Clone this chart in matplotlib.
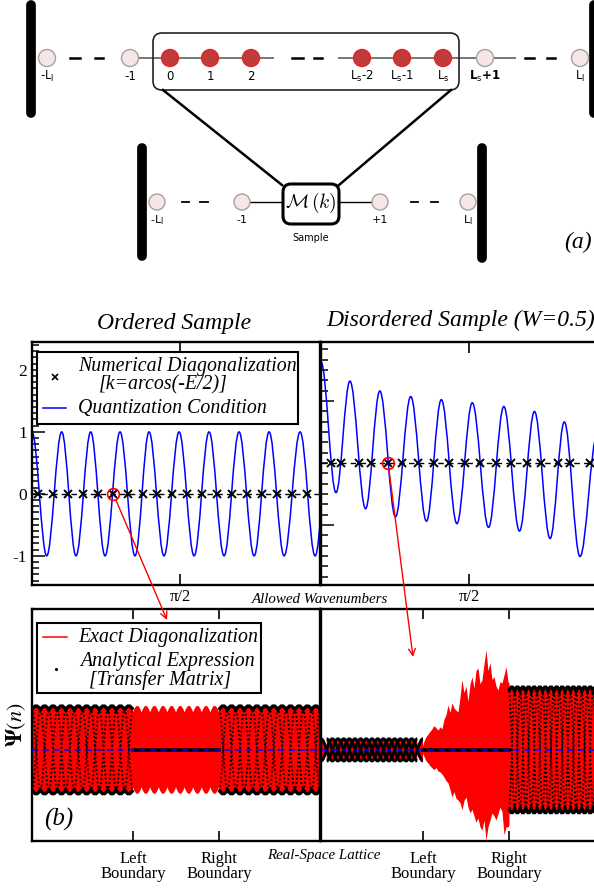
import numpy as np
import matplotlib.pyplot as plt
from matplotlib.path import Path
from matplotlib.patches import PathPatch, Rectangle, FancyBboxPatch, Circle, ConnectionPatch
from matplotlib.ticker import MultipleLocator

plt.rcParams['font.family'] = ['Liberation Serif', 'DejaVu Serif']
plt.rcParams['mathtext.fontset'] = 'stix'

# ---------------- (b) top row: quantization condition vs allowed k ----------------
# extrema of the blue curves (k, value)
ord_ext_k = [0.000, 0.156, 0.315, 0.467, 0.623, 0.775, 0.934, 1.093, 1.242, 1.401, 1.561,
             1.720, 1.879, 2.038, 2.197, 2.357, 2.516, 2.675, 2.845, 3.004, 3.160]
ord_ext_q = [1, -1, 1, -1, 1, -1, 1, -1, 1, -1, 1,
             -1, 1, -1, 1, -1, 1, -1, 1, -1, 1]
ord_roots = [0.067, 0.220, 0.379, 0.538, 0.697, 0.863, 1.016, 1.175, 1.330, 1.489,
             1.649, 1.801, 1.961, 2.120, 2.279, 2.445, 2.598, 2.757, 2.916]

dis_ext_k = [0.000, 0.159, 0.307, 0.473, 0.624, 0.790, 0.952, 1.119, 1.277, 1.442,
             1.605, 1.778, 1.940, 2.106, 2.265, 2.431, 2.582, 2.748, 2.930]
dis_ext_q = [2.13, 0.02, 1.82, -0.24, 1.66, -0.37, 1.57, -0.44, 1.52, -0.48,
             1.47, -0.54, 1.41, -0.60, 1.33, -0.72, 1.16, -1.01, 0.95]
dis_roots = [0.106, 0.212, 0.402, 0.529, 0.712, 0.864, 1.030, 1.196, 1.358, 1.524,
             1.683, 1.852, 2.011, 2.187, 2.335, 2.511, 2.642, 2.854]
W = 0.5
ord_pick = 0.863
dis_pick = 0.712

# ---------------- (b) bottom row: wavefunctions on the lattice ----------------
ord_bnd = [101, 187]
dis_bnd = [102, 188]
tick_names = ['Left\nBoundary', 'Right\nBoundary']

# oscillation nodes of the leads / sample (lattice position)
ord_lead_l = [0, 8.4, 16.8, 25.3, 33.7, 42.1, 50.5, 58.9, 67.3, 75.8, 84.2, 92.6, 101]
ord_sample = [101, 109.6, 118.2, 126.8, 135.4, 144, 152.6, 161.2, 169.8, 178.4, 187]
ord_lead_r = [187, 195.4, 203.8, 212.3, 220.7, 229.1, 237.5, 245.9, 254.3, 262.8, 271.2, 279.6, 288]
ord_amp = 1.0

dis_lead_l_a = [0, 11.3, 22.7, 34, 45.3, 56.7, 68, 79.3, 90.7, 102]
dis_lead_l_b = [5.7, 17, 28.3, 39.7, 51, 62.3, 73.7, 85, 96.3]
dis_lead_r = [188, 193.6, 199.2, 204.8, 210.4, 216, 221.6, 227.2, 232.8, 238.4,
              244, 249.6, 255.2, 260.8, 266.4, 272, 277.6, 283.2, 288.8]
dis_amp_l = 0.25
dis_amp_r = 1.43

# envelope of the exact-diagonalization state inside the disordered sample
dis_env_x = [101, 103, 105, 107, 109, 111, 113, 115, 117, 119,
             121, 123, 125, 127, 129, 131, 133, 135, 137, 139,
             141, 143, 145, 147, 149, 151, 153, 155, 157, 159,
             161, 163, 165, 167, 169, 171, 173, 175, 177, 179,
             181, 183, 185, 187, 188]
dis_env_top = [0.05, 0.20, 0.30, 0.36, 0.42, 0.48, 0.55, 0.50, 0.45, 0.52,
               0.48, 0.70, 0.80, 1.02, 0.85, 1.07, 0.95, 0.90, 0.86, 1.20,
               1.59, 1.30, 1.45, 1.10, 1.50, 1.66, 1.40, 1.80, 1.86, 1.50,
               1.59, 1.95, 2.27, 1.80, 1.98, 1.60, 1.66, 1.45, 1.36, 1.55,
               1.52, 1.70, 1.89, 1.55, 1.52]
dis_env_bot = [-0.05, -0.15, -0.25, -0.30, -0.36, -0.41, -0.45, -0.40, -0.48, -0.50,
               -0.55, -0.62, -0.70, -0.75, -0.90, -1.07, -0.95, -1.10, -1.14, -1.20,
               -1.36, -1.15, -1.07, -1.30, -1.43, -1.35, -1.50, -1.64, -1.55, -1.75,
               -1.82, -1.60, -2.05, -1.75, -1.60, -1.43, -1.50, -1.59, -1.45, -1.30,
               -1.40, -1.93, -1.75, -1.75, -1.70]

# ---------------- (a) schematic ----------------
row1_x = [47, 130, 170, 210, 251, 362, 402, 443, 485, 580]
row1_lab = ['-L$_\\mathrm{l}$', '-1', '0', '1', '2', 'L$_\\mathrm{s}$-2', 'L$_\\mathrm{s}$-1',
            'L$_\\mathrm{s}$', 'L$_\\mathrm{s}$+1', 'L$_\\mathrm{l}$']
row1_in_sample = [False, False, True, True, True, True, True, True, False, False]
row2_x = [157, 242, 380, 468]
row2_lab = ['-L$_\\mathrm{l}$', '-1', '+1', 'L$_\\mathrm{l}$']


def wave_verts(xs, ys):
    # smooth curve with flat tangents at every given extremum
    v = [(xs[0], ys[0])]
    for i in range(len(xs) - 1):
        dx = xs[i + 1] - xs[i]
        v += [(xs[i] + 0.3634 * dx, ys[i]), (xs[i + 1] - 0.3634 * dx, ys[i + 1]), (xs[i + 1], ys[i + 1])]
    return v


def wave_path(xs, ys):
    v = wave_verts(xs, ys)
    return Path(v, [Path.MOVETO] + [Path.CURVE4] * (len(v) - 1))


def scallop_verts(edges, lo, hi):
    v = [(edges[0], lo)]
    for a, b in zip(edges[:-1], edges[1:]):
        v += [((a + b) / 2, 2 * hi - lo), (b, lo)]
    return v


def scallop_path(edges, lo, hi):
    v = scallop_verts(edges, lo, hi)
    return Path(v, [Path.MOVETO] + [Path.CURVE3] * (len(v) - 1))


def band_path(edges, lo, hi):
    top = scallop_verts(edges, lo, hi)
    bot = scallop_verts(edges[::-1], -lo, -hi)
    codes = ([Path.MOVETO] + [Path.CURVE3] * (len(top) - 1) + [Path.LINETO]
             + [Path.CURVE3] * (len(bot) - 1) + [Path.CLOSEPOLY])
    return Path(top + bot + [top[0]], codes)


def alternate(edges, amp):
    return [amp if i % 2 == 0 else -amp for i in range(len(edges))]


def draw_lead(ax, edges, amp, dip):
    ax.add_patch(PathPatch(band_path(edges, amp - dip, amp), fc='red', ec='none', zorder=2))
    alt = alternate(edges, amp * 0.93)
    for s in (1, -1):
        ax.add_patch(PathPatch(wave_path(edges, [s * a for a in alt]), fill=False, ec='k',
                               lw=1.3, ls=(0, (1, 1.3)), zorder=3))
        ax.add_patch(PathPatch(scallop_path(edges, s * (amp - dip), s * amp), fill=False,
                               ec='k', lw=2.4, zorder=4))


def draw_chain(ax, edges, amp):
    alt = alternate(edges, amp)
    up = wave_verts(edges, alt)
    dn = wave_verts(edges, [-a for a in alt])
    codes = ([Path.MOVETO] + [Path.CURVE4] * (len(up) - 1) + [Path.LINETO]
             + [Path.CURVE4] * (len(dn) - 1) + [Path.CLOSEPOLY])
    ax.add_patch(PathPatch(Path(up + dn[::-1] + [up[0]], codes), fc='red', ec='none', zorder=2))
    for v in (up, dn):
        ax.add_patch(PathPatch(Path(v, [Path.MOVETO] + [Path.CURVE4] * (len(v) - 1)),
                               fill=False, ec='k', lw=2.2, zorder=4))


fig = plt.figure(figsize=(5.94, 8.88), dpi=100)


def px_axes(x0, y0, x1, y1, **kw):
    return fig.add_axes([x0 / 594, 1 - y1 / 888, (x1 - x0) / 594, (y1 - y0) / 888], **kw)


ax_tl = px_axes(32, 342, 320, 585)
ax_tr = px_axes(321, 342, 609, 585)
ax_bl = px_axes(32, 609, 320, 841)
ax_br = px_axes(321, 609, 609, 841)

for ax in (ax_tl, ax_tr, ax_bl, ax_br):
    for sp in ax.spines.values():
        sp.set_linewidth(1.7)

# ---- top panels
for ax, ek, eq, roots, lvl, pick in ((ax_tl, ord_ext_k, ord_ext_q, ord_roots, 0, ord_pick),
                                     (ax_tr, dis_ext_k, dis_ext_q, dis_roots, W, dis_pick)):
    ax.set_xlim(0, 3.056)
    ax.set_ylim(-1.47, 2.45)
    ax.add_patch(PathPatch(wave_path(ek, eq), fill=False, ec='blue', lw=1.1, zorder=2))
    ax.axhline(lvl, color='k', lw=1.0, ls=(0, (4, 3)), zorder=3)
    ax.plot(roots, [lvl] * len(roots), 'x', color='k', ms=5.5, mew=1.4, zorder=4)
    ax.plot([pick], [lvl], 'o', mfc='none', mec='red', ms=8.5, mew=1.2, zorder=5)
    ax.set_xticks([np.pi / 2])
    ax.set_xticklabels(['π/2'], fontsize=12)
    ax.tick_params(axis='x', direction='in', top=True, length=8, width=1.2, pad=3)
    ax.tick_params(axis='y', which='both', direction='in', right=False, width=1.1)
    ax.tick_params(axis='y', which='major', length=9)
    ax.tick_params(axis='y', which='minor', length=5)

ax_tl.set_yticks([-1, 0, 1, 2])
ax_tl.set_yticklabels(['-1', '0', '1', '2'], fontsize=12.5)
ax_tl.yaxis.set_minor_locator(MultipleLocator(0.1))
ax_tr.set_yticks([-0.5, 1.5])
ax_tr.set_yticklabels([])
ax_tr.yaxis.set_minor_locator(MultipleLocator(1 / 6))

# ---- bottom panels
for ax, bnd in ((ax_bl, ord_bnd), (ax_br, dis_bnd)):
    ax.set_xlim(0, 288)
    ax.set_ylim(-2.07, 3.2)
    ax.set_yticks([])
    ax.set_xticks(bnd)
    ax.set_xticklabels(tick_names, fontsize=12, linespacing=0.95)
    ax.tick_params(axis='x', direction='in', top=True, length=7, width=1.2, pad=7)

draw_lead(ax_bl, ord_lead_l, ord_amp, 0.09)
draw_lead(ax_bl, ord_lead_r, ord_amp, 0.09)
ax_bl.add_patch(PathPatch(band_path(ord_sample, ord_amp - 0.15, ord_amp), fc='red', ec='none', zorder=2))
ax_bl.plot(ord_bnd, [0, 0], color='k', lw=2.6, zorder=5)
ax_bl.axhline(0, color='blue', lw=1.1, ls=(0, (4, 3)), zorder=6)
ax_bl.set_ylabel(r'$\mathbf{\Psi}(n)$', fontsize=16, labelpad=3)

draw_chain(ax_br, dis_lead_l_a, dis_amp_l)
draw_chain(ax_br, dis_lead_l_b, dis_amp_l)
draw_lead(ax_br, dis_lead_r, dis_amp_r, 0.1)
ax_br.fill_between(dis_env_x, dis_env_bot, dis_env_top, color='red', lw=0, zorder=2)
ax_br.plot(dis_bnd, [0, 0], color='k', lw=2.6, zorder=5)
ax_br.axhline(0, color='blue', lw=1.1, ls=(0, (4, 3)), zorder=6)

# ---- overlay for schematic, titles and legends (pixel coordinates)
ov = fig.add_axes([0, 0, 1, 1], zorder=5)
ov.set_xlim(0, 594)
ov.set_ylim(888, 0)
ov.axis('off')
ov.patch.set_visible(False)

sans = dict(family='DejaVu Sans', math_fontfamily='dejavusans')

# row 1
for xa, xb in ((130, 273), (339, 515)):
    ov.plot([xa, xb], [58, 58], color='#777777', lw=1.4, zorder=1)
for xa, xb in ((70, 80), (95, 103), (292, 303), (314, 322), (525, 534), (547, 555)):
    ov.plot([xa, xb], [58, 58], color='k', lw=1.8, zorder=1)
for x, lab, red in zip(row1_x, row1_lab, row1_in_sample):
    ov.add_patch(Circle((x, 58), 8.5, fc='#c23b3b' if red else '#f6e6e6',
                        ec='#e02828' if red else '#a8a0a0', lw=1.0, zorder=3))
    ov.text(x, 76, lab, ha='center', va='center', fontsize=8.5,
            fontweight='bold' if lab.endswith('+1') else 'normal', **sans)
ov.add_patch(FancyBboxPatch((153, 33), 306, 57, boxstyle='round,pad=0,rounding_size=9',
                            fc='none', ec='#222222', lw=1.2, zorder=2))
for x in (31, 594):
    ov.plot([x, x], [5, 113], color='k', lw=7, solid_capstyle='round')

# connection to the sample box
ov.plot([163, 282], [90, 185], color='k', lw=1.8)
ov.plot([451, 339], [90, 185], color='k', lw=1.8)

# row 2
for xa, xb in ((242, 283), (339, 380)):
    ov.plot([xa, xb], [202, 202], color='k', lw=1.0, zorder=1)
for xa, xb in ((182, 189), (200, 208), (411, 418), (431, 438)):
    ov.plot([xa, xb], [202, 202], color='k', lw=1.3, zorder=1)
for x, lab in zip(row2_x, row2_lab):
    ov.add_patch(Circle((x, 202), 8, fc='#f6e6e6', ec='#a8a0a0', lw=1.0, zorder=3))
    ov.text(x, 220, lab, ha='center', va='center', fontsize=8, **sans)
ov.add_patch(FancyBboxPatch((283, 184), 56, 40, boxstyle='round,pad=0,rounding_size=8',
                            fc='white', ec='k', lw=2.2, zorder=4))
ov.text(311, 203, r'$\mathcal{M}\,(k)$', ha='center', va='center', fontsize=14,
        math_fontfamily='cm', zorder=5)
ov.text(311, 238, 'Sample', ha='center', va='center', fontsize=7, family='DejaVu Sans')
for x, y0, y1 in ((142, 148, 256), (482, 148, 258)):
    ov.plot([x, x], [y0, y1], color='k', lw=7, solid_capstyle='round')
ov.text(592, 242, '(a)', ha='right', va='center', fontsize=17, style='italic')

# titles and axis captions
ov.text(174, 323, 'Ordered Sample', ha='center', va='center', fontsize=17, style='italic')
ov.text(326, 320, 'Disordered Sample (W=0.5)', ha='left', va='center', fontsize=17, style='italic')
ov.text(320, 599, 'Allowed Wavenumbers', ha='center', va='center', fontsize=10.8, style='italic')
ov.text(324, 855, 'Real-Space Lattice', ha='center', va='center', fontsize=10.8, style='italic')
ov.text(59, 819, '(b)', ha='center', va='center', fontsize=18, style='italic')

# legend of the top-left panel
ov.add_patch(Rectangle((37, 352), 261, 72, fc='white', ec='k', lw=1.5, zorder=6))
ov.plot([55], [377], 'x', color='k', ms=5, mew=1.2, zorder=7)
ov.plot([43, 66], [408, 408], color='blue', lw=1.1, zorder=7)
ov.text(78, 366, 'Numerical Diagonalization', ha='left', va='center', fontsize=14.3, style='italic', zorder=7)
ov.text(99, 385, '[k=arcos(-E/2)]', ha='left', va='center', fontsize=14.3, style='italic', zorder=7)
ov.text(78, 408, 'Quantization Condition', ha='left', va='center', fontsize=14.3, style='italic', zorder=7)

# legend of the bottom-left panel
ov.add_patch(Rectangle((37, 623), 224, 70, fc='white', ec='k', lw=1.5, zorder=6))
ov.plot([43, 67], [637, 637], color='red', lw=1.1, zorder=7)
ov.plot([56], [669], '.', color='k', ms=2.5, zorder=7)
ov.text(78, 637, 'Exact Diagonalization', ha='left', va='center', fontsize=14.3, style='italic', zorder=7)
ov.text(80, 661, 'Analytical Expression', ha='left', va='center', fontsize=14.3, style='italic', zorder=7)
ov.text(89, 680, '[Transfer Matrix]', ha='left', va='center', fontsize=14.3, style='italic', zorder=7)

# red arrows from the picked eigenvalue to its wavefunction
for axa, pa, axb, pb in ((ax_tl, (ord_pick, 0), ax_bl, (135, 2.95)),
                         (ax_tr, (dis_pick, W), ax_br, (92, 2.11))):
    con = ConnectionPatch(xyA=pa, coordsA=axa.transData, xyB=pb, coordsB=axb.transData,
                          arrowstyle='->', color='red', lw=1.0, mutation_scale=12,
                          shrinkA=5, shrinkB=0, zorder=10)
    fig.add_artist(con)

fig.savefig('out.png', dpi=100)
